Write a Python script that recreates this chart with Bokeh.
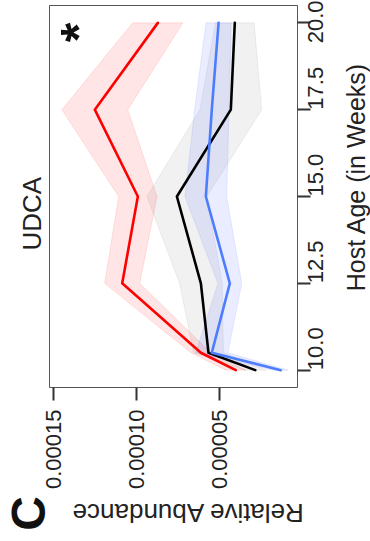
from math import pi

from bokeh.embed import file_html
from bokeh.layouts import column, row
from bokeh.models import FixedTicker, Label, LinearAxis, PrintfTickFormatter, Range1d, Title
from bokeh.plotting import figure
from bokeh.resources import INLINE

# Host age (weeks) at each sampling point
weeks = [10, 10.5, 12.5, 15, 17.5, 20]

# Relative abundance: mean and standard error per group
black_mean = [2.82e-5, 5.65e-5, 6.11e-5, 7.56e-5, 4.30e-5, 4.06e-5]
black_se = [6.5e-6, 9.0e-6, 1.29e-5, 1.81e-5, 1.87e-5, 1.17e-5]

red_mean = [4.00e-5, 6.11e-5, 1.0865e-4, 9.92e-5, 1.2521e-4, 8.71e-5]
red_se = [6.0e-6, 6.0e-6, 1.06e-5, 1.16e-5, 1.99e-5, 1.52e-5]

blue_mean = [1.28e-5, 5.45e-5, 4.36e-5, 5.81e-5, 5.45e-5, 5.04e-5]
blue_se = [4.5e-6, 9.7e-6, 7.2e-6, 1.26e-5, 1.04e-5, 7.6e-6]

abundance_ticks = [5e-5, 1e-4, 1.5e-4]
age_ticks = [10, 12.5, 15, 17.5, 20]

FONT = "Liberation Sans"
TEXT = "#222222"

# page columns / rows (pixels)
FRAME_X0, FRAME_X1 = 49, 297
FRAME_Y0, FRAME_Y1 = 5, 387
RIGHT_X = 340        # strip holding the age-axis title starts here
TOP_H = 495          # strip holding the abundance-axis title starts here
PAGE_W, PAGE_H = 370, 541


def blank(width, height, x0, x1, y_top, y_bottom):
    """A borderless strip whose data units are page pixels (y grows downward)."""
    f = figure(width=width, height=height, output_backend="svg", toolbar_location=None,
               x_range=Range1d(x0, x1), y_range=Range1d(y_bottom, y_top),
               x_axis_location=None, y_axis_location=None, min_border=0)
    f.outline_line_color = None
    f.xgrid.visible = False
    f.ygrid.visible = False
    f.background_fill_color = "white"
    f.border_fill_color = "white"
    return f


def add_text(f, text, x, y, angle, size, style="normal", color=TEXT):
    f.add_layout(Label(x=x, y=y, text=text, angle=angle,
                       text_align="center", text_baseline="middle",
                       text_font=FONT, text_font_size=size,
                       text_font_style=style, text_color=color))


# Main panel, drawn turned a quarter turn: abundance runs right-to-left
# along the bottom, host age runs upward along the right side.
p = figure(
    width=RIGHT_X,
    height=TOP_H,
    output_backend="svg",
    toolbar_location=None,
    x_range=Range1d(0.0001526, 0.0000027),
    y_range=Range1d(9.5, 20.5),
    x_axis_location=None,
    y_axis_location=None,
    min_border_left=FRAME_X0,
    min_border_right=RIGHT_X - FRAME_X1,
    min_border_top=FRAME_Y0,
    min_border_bottom=TOP_H - FRAME_Y1,
)
p.xgrid.visible = False
p.ygrid.visible = False
p.outline_line_color = "#555555"
p.outline_line_width = 1
p.background_fill_color = "white"
p.border_fill_color = "white"

# panel title, set along the left edge and reading upward
p.add_layout(Title(text="UDCA", align="left", offset=137, standoff=5,
                   vertical_align="bottom", text_font=FONT, text_font_size="26px",
                   text_font_style="normal", text_color=TEXT), "left")


def style_axis(ax):
    ax.axis_line_color = None
    ax.major_tick_in = 0
    ax.major_tick_out = 13
    ax.major_tick_line_width = 2
    ax.major_tick_line_color = "#333333"
    ax.minor_tick_line_color = None
    ax.major_label_text_font = FONT
    ax.major_label_text_font_size = "22px"
    ax.major_label_text_color = TEXT
    ax.major_label_orientation = pi / 2


x_ax = LinearAxis(ticker=FixedTicker(ticks=abundance_ticks),
                  formatter=PrintfTickFormatter(format="%.5f"))
style_axis(x_ax)
x_ax.major_label_standoff = 9
p.add_layout(x_ax, "below")

y_ax = LinearAxis(ticker=FixedTicker(ticks=age_ticks),
                  formatter=PrintfTickFormatter(format="%.1f"))
style_axis(y_ax)
y_ax.major_label_standoff = 5
p.add_layout(y_ax, "right")


def band(mean, se, color, alpha):
    lo = [m - s for m, s in zip(mean, se)]
    hi = [m + s for m, s in zip(mean, se)]
    p.patch(lo + hi[::-1], weeks + weeks[::-1],
            fill_color=color, fill_alpha=alpha,
            line_color=color, line_alpha=alpha, line_width=1)


band(black_mean, black_se, "#808080", 0.11)
band(red_mean, red_se, "#ff0000", 0.10)
band(blue_mean, blue_se, "#3050ff", 0.10)

for mean, color in [(red_mean, "#ff0000"), (black_mean, "#000000"), (blue_mean, "#4c7dff")]:
    p.line(mean, weeks, line_color=color, line_width=2.6,
           line_join="round", line_cap="round")

# significance mark in the panel corner
p.add_layout(Label(x=29, y=355, x_units="screen", y_units="screen", text="*",
                   angle=pi / 2, text_align="center", text_baseline="alphabetic",
                   text_font=FONT, text_font_size="50px", text_font_style="bold",
                   text_color="#111111"))

# Strips carrying the axis titles
right = blank(PAGE_W - RIGHT_X, TOP_H, RIGHT_X, PAGE_W, 0, TOP_H)
add_text(right, "Host Age (in Weeks)", 355, 222, pi / 2, "25px")

bottom = blank(PAGE_W, PAGE_H - TOP_H, 0, PAGE_W, TOP_H, PAGE_H)
add_text(bottom, "Relative Abundance", 187, 512.5, pi, "26px")
add_text(bottom, "C", 27.5, 513, pi / 2, "48px", style="bold", color="#111111")

page = column(row(p, right, spacing=0), bottom, spacing=0)

open("out.html", "w").write(file_html(page, INLINE))
